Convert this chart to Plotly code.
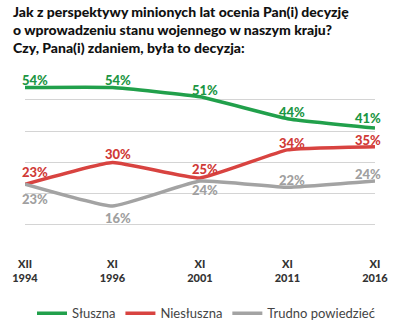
import plotly.graph_objects as go

periods = ["XII<br>1994", "XI<br>1996", "XI<br>2001", "XI<br>2011", "XI<br>2016"]
sluszna = [54, 54, 51, 44, 41]
niesluszna = [23, 30, 25, 34, 35]
trudno = [23, 16, 24, 22, 24]

series = [
    ("Słuszna", sluszna, "#21a04b", "#1c9644"),
    ("Niesłuszna", niesluszna, "#d84340", "#d03a37"),
    ("Trudno powiedzieć", trudno, "#a3a3a3", "#a0a0a0"),
]

# label placement (style): vertical shift per point in px
yshifts = {
    "Słuszna": [7, 7, 7, 7, 10],
    "Niesłuszna": [12, 8, 9, 7, 7],
    "Trudno powiedzieć": [-15, -12, -9, 7, 7],
}
xshifts = [10, 5, 5, 4, -7]

FONT = "Lato"
xs = list(range(len(periods)))

fig = go.Figure()
annotations = []
for name, vals, col, lcol in series:
    fig.add_trace(go.Scatter(
        x=xs, y=vals, name=name, mode="lines",
        line=dict(color=col, width=3.5, shape="spline", smoothing=0.35),
        cliponaxis=False, hoverinfo="skip",
    ))
    for i, v in enumerate(vals):
        annotations.append(dict(
            x=xs[i], y=v, xref="x", yref="y", text=f"{v}%", showarrow=False,
            xanchor="center", yanchor="middle",
            xshift=xshifts[i], yshift=yshifts[name][i],
            font=dict(family=FONT, size=13, color=lcol, weight=900),
        ))

annotations.append(dict(
    x=-15/364, y=1 + 74/181, xref="paper", yref="paper", xanchor="left", yanchor="top",
    showarrow=False, align="left",
    text="Jak z perspektywy minionych lat ocenia Pan(i) decyzję<br>o wprowadzeniu stanu wojennego w naszym kraju?<br>Czy, Pana(i) zdaniem, była to decyzja:",
    font=dict(family=FONT, size=14, color="#111111", weight=900),
))

fig.update_layout(
    width=400, height=329,
    margin=dict(l=15, r=21, t=75, b=73),
    paper_bgcolor="white", plot_bgcolor="white",
    annotations=annotations,
    showlegend=True,
    legend=dict(
        orientation="h", xref="container", yref="container",
        x=0.515, y=0.048, xanchor="center", yanchor="middle",
        font=dict(family=FONT, size=13, color="#444444"),
        itemwidth=30, tracegroupgap=0,
    ),
    xaxis=dict(
        range=[0, 4], tickmode="array", tickvals=xs, ticktext=periods,
        showgrid=False, zeroline=False, showline=False, ticks="",
        tickfont=dict(family=FONT, size=11, color="#333333", weight=900),
        fixedrange=True,
    ),
    yaxis=dict(
        range=[0, 58], dtick=10, tick0=0, showticklabels=False,
        showgrid=True, gridcolor="#d4d4d4", gridwidth=1, zeroline=False,
        fixedrange=True,
    ),
)

fig.write_html("out.html")
